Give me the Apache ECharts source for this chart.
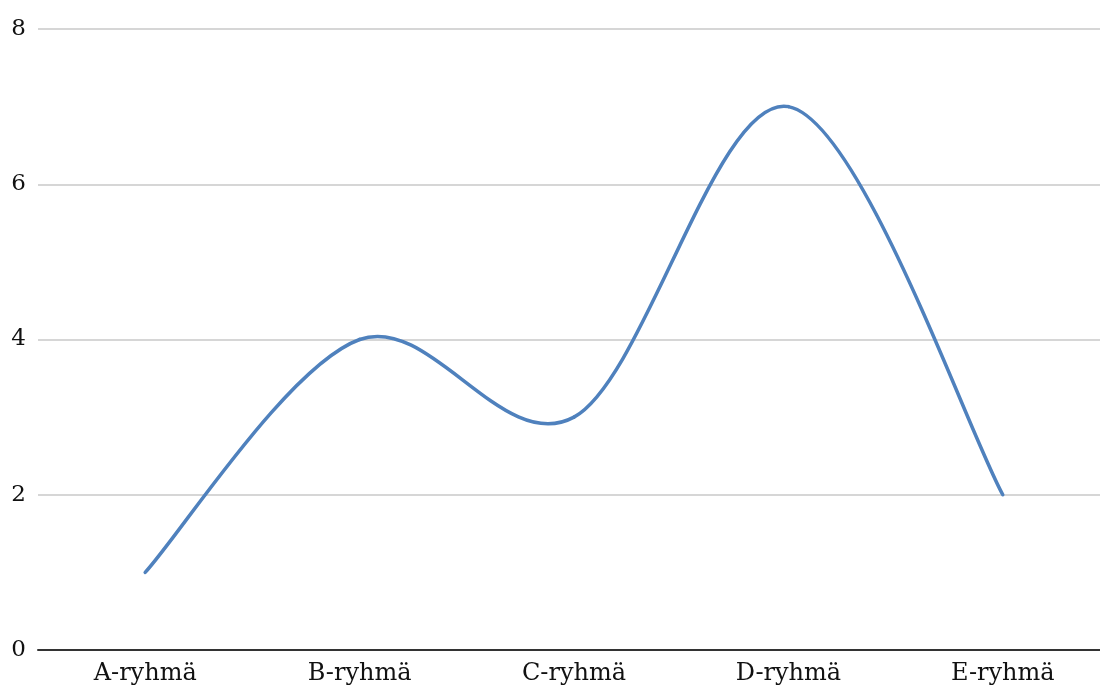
<!DOCTYPE html>
<html><head><meta charset="utf-8">
<script src="https://cdn.jsdelivr.net/npm/echarts@6/dist/echarts.min.js"></script>
<style>html,body{margin:0;padding:0;background:#fff;overflow:hidden;width:1100px;height:686px}#c{width:1110px;height:686px}</style>
</head><body><div id="c"></div>
<script>
var categories = ['A-ryhmä','B-ryhmä','C-ryhmä','D-ryhmä','E-ryhmä'];
var values = [1, 4, 3, 7, 2];
var yTicks = [0, 2, 4, 6, 8];
var chart = echarts.init(document.getElementById('c'));
function renderCurve(params, api){
  if (params.dataIndex !== 0) return null;
  var n = values.length;
  var pts = values.map(function(v,i){ return api.coord([i, v]); });
  var children = [];
  for (var i = 0; i < n - 1; i++){
    var p0 = pts[Math.max(i-1,0)], p1 = pts[i], p2 = pts[i+1], p3 = pts[Math.min(i+2,n-1)];
    children.push({type:'bezierCurve', shape:{
      x1:p1[0], y1:p1[1], x2:p2[0], y2:p2[1],
      cpx1:p1[0]+(p2[0]-p0[0])/6, cpy1:p1[1]+(p2[1]-p0[1])/6,
      cpx2:p2[0]-(p3[0]-p1[0])/6, cpy2:p2[1]-(p3[1]-p1[1])/6
    }, style:{fill:null, stroke:'#4f81bd', lineWidth:3.5, lineCap:'round'}});
  }
  return {type:'group', children:children};
}
chart.setOption({
  animation:false,
  grid:{left:38,right:0,top:29,bottom:36},
  xAxis:{type:'category',data:categories,boundaryGap:true,
    axisLine:{lineStyle:{color:'#333',width:2}},axisTick:{show:false},
    axisLabel:{fontFamily:'DejaVu Serif',fontSize:24,color:'#111',margin:12}},
  yAxis:{type:'value',min:yTicks[0],max:yTicks[yTicks.length-1],interval:2,
    axisLine:{show:false},axisTick:{show:false},
    splitLine:{lineStyle:{color:'#c8c8c8',width:1.5}},
    axisLabel:{fontFamily:'DejaVu Serif',fontSize:23,color:'#111',margin:12}},
  series:[{type:'custom',renderItem:renderCurve,clip:false,
    data:values.map(function(v,i){return [i,v];}),encode:{x:0,y:1}}]
});
</script></body></html>
